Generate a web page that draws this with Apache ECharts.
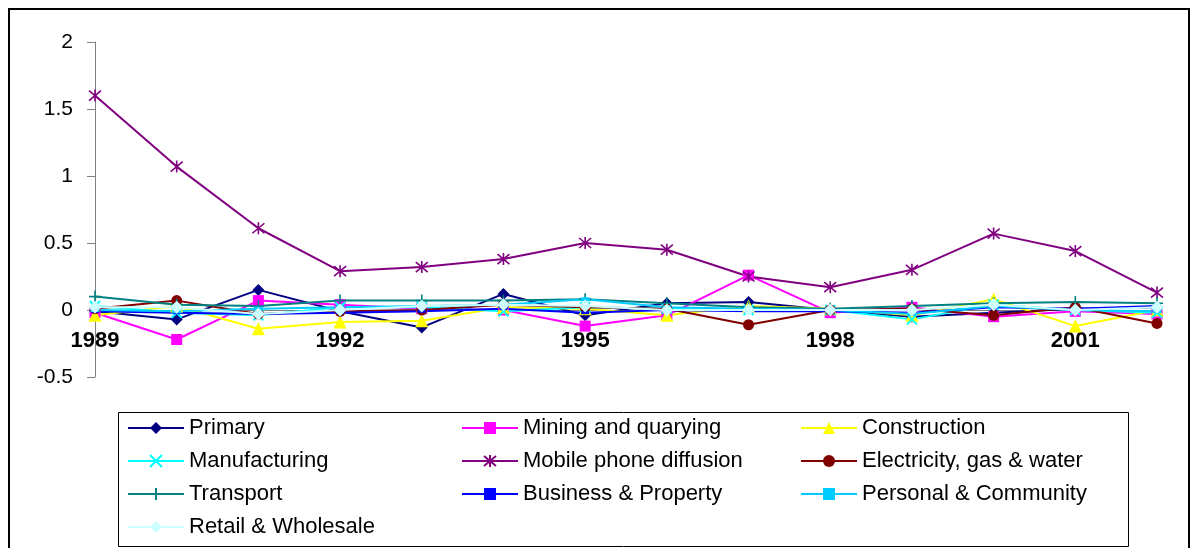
<!DOCTYPE html>
<html>
<head>
<meta charset="utf-8">
<script src="https://cdn.jsdelivr.net/npm/echarts@6/dist/echarts.min.js"></script>
<style>
  html, body { margin: 0; padding: 0; background: #fff; }
  #chart { width: 1195px; height: 548px; }
</style>
</head>
<body>
<div id="chart"></div>
<script>
const years = ['1989', '1990', '1991', '1992', '1993', '1994', '1995', '1996', '1997', '1998', '1999', '2000', '2001', '2002']

const primary = [-0.01, -0.07, 0.15, -0.01, -0.13, 0.12, -0.04, 0.05, 0.06, 0.0, -0.05, -0.02, 0.01, 0.02]
const mining = [-0.02, -0.22, 0.07, 0.04, 0.01, 0.0, -0.12, -0.04, 0.26, -0.02, 0.02, -0.05, -0.01, -0.03]
const construction = [-0.04, 0.03, -0.14, -0.09, -0.08, 0.02, 0.01, -0.04, 0.03, 0.01, -0.04, 0.08, -0.12, 0.0]
const manufacturing = [0.03, -0.02, -0.04, 0.02, 0.02, -0.01, 0.02, 0.01, 0.0, 0.0, -0.07, 0.04, 0.0, -0.02]
const mobile = [1.6, 1.07, 0.61, 0.29, 0.32, 0.38, 0.5, 0.45, 0.25, 0.17, 0.3, 0.57, 0.44, 0.13]
const electricity = [0.01, 0.07, -0.03, -0.01, 0.0, 0.04, 0.02, 0.01, -0.11, 0.0, 0.01, -0.04, 0.02, -0.1]
const transport = [0.1, 0.04, 0.03, 0.07, 0.07, 0.07, 0.08, 0.05, 0.02, 0.01, 0.03, 0.05, 0.06, 0.05]
const business = [-0.01, -0.02, -0.03, -0.02, -0.01, 0.01, -0.02, 0.0, -0.01, -0.01, -0.02, 0.02, 0.01, 0.03]
const personal = [0.0, -0.01, 0.01, 0.02, 0.03, 0.04, 0.08, 0.02, 0.01, 0.0, -0.03, 0.03, 0.0, -0.01]
const retail = [0.02, 0.02, -0.03, 0.0, 0.03, 0.04, 0.03, 0.0, 0.0, 0.0, 0.0, 0.04, 0.0, 0.02]

const FONT = '"Liberation Sans", Arial, sans-serif'
const xMark = 'path://M0,0L10,10M10,0L0,10'
const starMark = 'path://M0,0L10,10M10,0L0,10M5,-1L5,11'
const plusMark = 'path://M0,5L10,5M5,0L5,10'

function line(name, data, color, symbol, size, stroke) {
  return {
    name: name,
    type: 'line',
    data: data,
    symbol: symbol,
    symbolSize: size,
    showSymbol: true,
    animation: false,
    lineStyle: { color: color, width: 2 },
    itemStyle: { color: color, borderColor: color, borderWidth: stroke || 0 },
    emphasis: { disabled: true }
  }
}

const chart = echarts.init(document.getElementById('chart'))

const legendBase = {
  orient: 'vertical',
  top: 412,
  itemWidth: 56,
  itemHeight: 15,
  itemGap: 11,
  selectedMode: false,
  textStyle: { fontFamily: FONT, fontSize: 22, color: '#000', lineHeight: 22 }
}

chart.setOption({
  backgroundColor: '#fff',
  animation: false,
  grid: { left: 95, right: 38, top: 42, bottom: 171 },
  legend: [
    Object.assign({}, legendBase, { left: 122, data: ['Primary', 'Manufacturing', 'Transport', 'Retail & Wholesale'] }),
    Object.assign({}, legendBase, { left: 456, data: ['Mining and quarying', 'Mobile phone diffusion', 'Business & Property'] }),
    Object.assign({}, legendBase, { left: 795, data: ['Construction', 'Electricity, gas & water', 'Personal & Community'] })
  ],
  graphic: [
    { type: 'rect', shape: { x: 9, y: 9, width: 1180, height: 560 }, style: { fill: 'none', stroke: '#000', lineWidth: 2 }, z: 100 },
    { type: 'rect', shape: { x: 118.5, y: 412.5, width: 1010, height: 134 }, style: { fill: 'none', stroke: '#000', lineWidth: 1 }, z: 100 }
  ],
  xAxis: {
    type: 'category',
    data: years,
    boundaryGap: false,
    offset: -67,
    axisLine: { onZero: false, lineStyle: { color: '#808080', width: 1 } },
    axisTick: { show: false },
    splitLine: { show: false },
    axisLabel: { interval: 2, margin: 20, fontFamily: FONT, fontSize: 22, fontWeight: 'bold', color: '#000' }
  },
  yAxis: {
    type: 'value',
    min: -0.5,
    max: 2,
    interval: 0.5,
    axisLine: { show: true, lineStyle: { color: '#808080', width: 1 } },
    axisTick: { show: true, length: 8, lineStyle: { color: '#808080' } },
    splitLine: { show: false },
    axisLabel: { margin: 22, fontFamily: FONT, fontSize: 21, color: '#000' }
  },
  series: [
    line('Primary', primary, '#000080', 'diamond', 12),
    line('Mining and quarying', mining, '#FF00FF', 'rect', 11),
    line('Construction', construction, '#FFFF00', 'triangle', 13),
    line('Manufacturing', manufacturing, '#00FFFF', xMark, 10, 2),
    line('Mobile phone diffusion', mobile, '#800080', starMark, 12, 1.6),
    line('Electricity, gas & water', electricity, '#800000', 'circle', 11),
    line('Transport', transport, '#008080', plusMark, 12, 1.6),
    line('Business & Property', business, '#0000FF', 'rect', [8, 3]),
    line('Personal & Community', personal, '#00CCFF', 'rect', [9, 4]),
    line('Retail & Wholesale', retail, '#CCFFFF', 'diamond', 13)
  ]
})
</script>
</body>
</html>
